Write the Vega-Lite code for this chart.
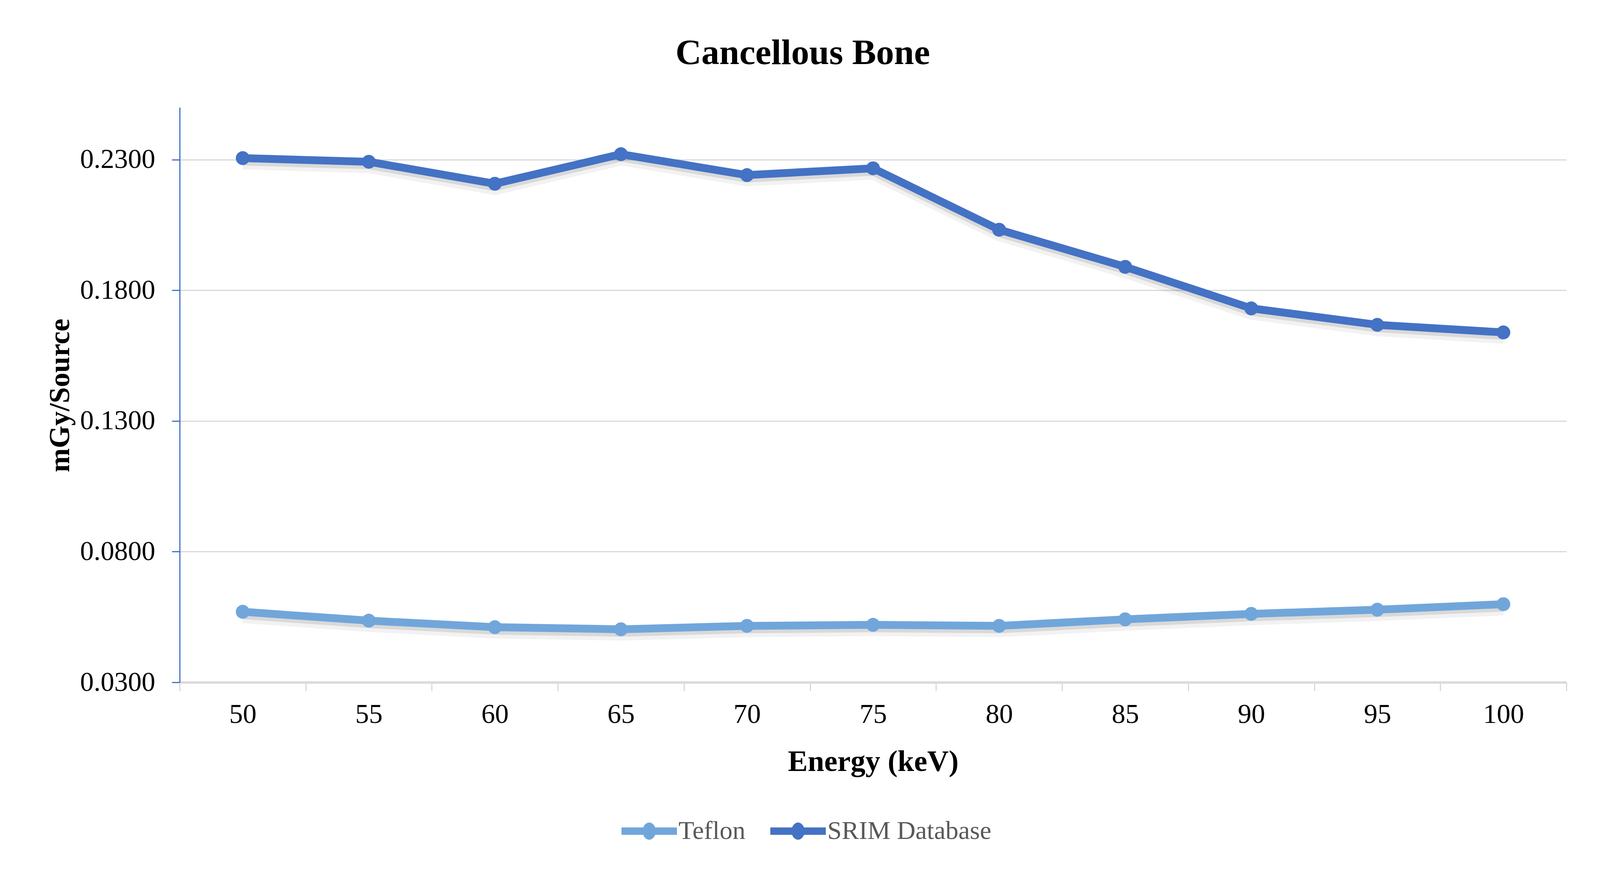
{
  "$schema": "https://vega.github.io/schema/vega-lite/v6.json",
  "autosize": {"type": "none"},
  "width": 3550,
  "height": 1472,
  "padding": {"left": 460, "top": 275, "right": 387, "bottom": 501},
  "background": "white",
  "title": {"text": "Cancellous Bone", "font": "Liberation Serif", "fontSize": 92, "fontWeight": "bold", "color": "#000000", "anchor": "middle", "frame": "group", "dx": -180, "offset": 92},
  "config": {"view": {"stroke": null}},
  "data": {"values": [
    {"energy": 50, "series": "Teflon", "dose": 0.0570},
    {"energy": 55, "series": "Teflon", "dose": 0.0536},
    {"energy": 60, "series": "Teflon", "dose": 0.0511},
    {"energy": 65, "series": "Teflon", "dose": 0.0503},
    {"energy": 70, "series": "Teflon", "dose": 0.0516},
    {"energy": 75, "series": "Teflon", "dose": 0.0520},
    {"energy": 80, "series": "Teflon", "dose": 0.0516},
    {"energy": 85, "series": "Teflon", "dose": 0.0541},
    {"energy": 90, "series": "Teflon", "dose": 0.0562},
    {"energy": 95, "series": "Teflon", "dose": 0.0578},
    {"energy": 100, "series": "Teflon", "dose": 0.0599},
    {"energy": 50, "series": "SRIM Database", "dose": 0.2306},
    {"energy": 55, "series": "SRIM Database", "dose": 0.2292},
    {"energy": 60, "series": "SRIM Database", "dose": 0.2208},
    {"energy": 65, "series": "SRIM Database", "dose": 0.2321},
    {"energy": 70, "series": "SRIM Database", "dose": 0.2241},
    {"energy": 75, "series": "SRIM Database", "dose": 0.2267},
    {"energy": 80, "series": "SRIM Database", "dose": 0.2032},
    {"energy": 85, "series": "SRIM Database", "dose": 0.1890},
    {"energy": 90, "series": "SRIM Database", "dose": 0.1731},
    {"energy": 95, "series": "SRIM Database", "dose": 0.1668},
    {"energy": 100, "series": "SRIM Database", "dose": 0.1639}
  ]},
  "encoding": {
    "x": {
      "field": "energy", "type": "ordinal",
      "scale": {"type": "band", "paddingInner": 0, "paddingOuter": 0},
      "bandPosition": 0.5,
      "axis": {
        "title": "Energy (keV)", "tickBand": "extent", "grid": false,
        "labelFont": "Liberation Serif", "labelFontSize": 70, "labelColor": "#000000", "labelAngle": 0, "labelPadding": 26, "labelLimit": 0,
        "tickColor": "#D9D9D9", "tickWidth": 3, "tickSize": 22,
        "domainColor": "#D9D9D9", "domainWidth": 6,
        "titleFont": "Liberation Serif", "titleFontSize": 76, "titleFontWeight": "bold", "titleColor": "#000000",
        "titleY": 203, "titleBaseline": "middle"
      }
    },
    "y": {
      "field": "dose", "type": "quantitative",
      "scale": {"domain": [0.03, 0.25], "nice": false, "zero": false},
      "axis": {
        "title": "mGy/Source", "values": [0.03, 0.08, 0.13, 0.18, 0.23], "format": ".4f",
        "labelFont": "Liberation Serif", "labelFontSize": 70, "labelColor": "#000000", "labelPadding": 43, "labelLimit": 0,
        "tickColor": "#4472C4", "tickSize": 20, "tickWidth": 3,
        "domainColor": "#4472C4", "domainWidth": 3,
        "grid": true, "gridColor": "#D9D9D9", "gridWidth": 3,
        "titleFont": "Liberation Serif", "titleFontSize": 74, "titleFontWeight": "bold", "titleColor": "#000000",
        "titleX": -306, "titleY": 737, "titleAngle": -90, "titleBaseline": "middle", "titleAlign": "center"
      }
    },
    "color": {
      "field": "series", "type": "nominal",
      "scale": {"domain": ["Teflon", "SRIM Database"], "range": ["#71A6DB", "#4472C4"]},
      "legend": {
        "orient": "none", "legendX": 1131, "legendY": 1782, "direction": "horizontal", "title": null,
        "labelFont": "Liberation Serif", "labelFontSize": 66, "labelColor": "#595959", "labelOffset": 4, "labelLimit": 0,
        "columnPadding": 63,
        "symbolType": "M-1,-0.134H1V0.134H-1Z M-0.236,0 A0.236,0.31 0 1,1 0.236,0 A0.236,0.31 0 1,1 -0.236,0Z",
        "symbolSize": 20164, "symbolStrokeWidth": 0
      }
    }
  },
  "layer": [
    {"mark": {"type": "line", "strokeWidth": 34, "strokeJoin": "round", "yOffset": 12, "opacity": 0.05},
     "encoding": {"color": {"value": "#000000"}, "detail": {"field": "series"}}},
    {"mark": {"type": "line", "strokeWidth": 22, "strokeJoin": "round", "yOffset": 8, "opacity": 0.1},
     "encoding": {"color": {"value": "#000000"}, "detail": {"field": "series"}}},
    {"mark": {"type": "line", "strokeWidth": 20, "strokeJoin": "round", "strokeCap": "butt"}},
    {"mark": {"type": "point", "filled": true, "size": 1257, "opacity": 1}}
  ]
}
